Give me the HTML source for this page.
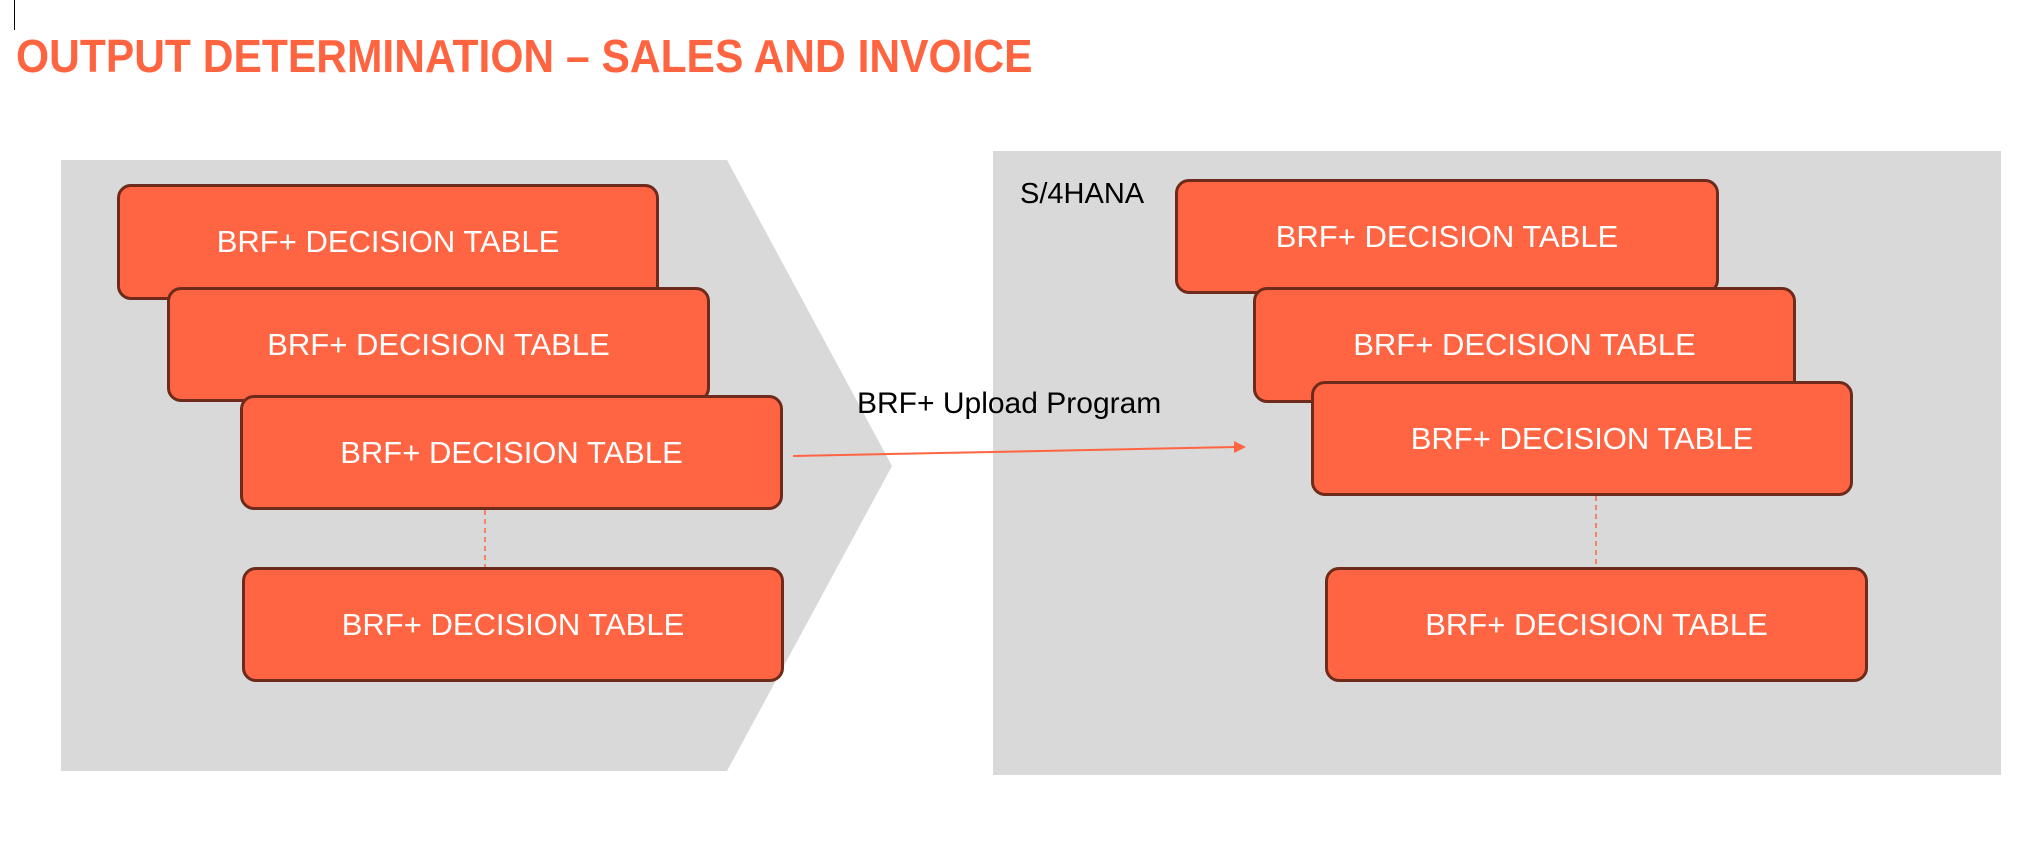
<!DOCTYPE html>
<html><head><meta charset="utf-8"><style>
html,body{margin:0;padding:0;background:#fff;}
body{width:2035px;height:862px;position:relative;overflow:hidden;font-family:"Liberation Sans",Arial,sans-serif;}
.t{position:absolute;left:16px;top:29px;font-weight:bold;font-size:46px;color:#FF6441;white-space:nowrap;transform-origin:0 0;transform:scaleX(0.925);}
.box{position:absolute;box-sizing:border-box;background:#FF6542;border:3px solid #6E2A1B;border-radius:14px;color:#fff;font-size:31px;display:flex;align-items:center;justify-content:center;white-space:nowrap;}
.lbl{position:absolute;font-size:30px;color:#000;white-space:nowrap;}
</style></head><body>
<div style="position:absolute;left:14px;top:0;width:1px;height:30px;background:#000"></div>
<div class="t">OUTPUT DETERMINATION – SALES AND INVOICE</div>
<svg width="2035" height="862" style="position:absolute;left:0;top:0">
<polygon points="61,160 727,160 892,466 727,771 61,771" fill="#D9D9D9"/>
<rect x="993" y="151" width="1008" height="624" fill="#D9D9D9"/>
</svg>
<div class="box" style="left:117px;top:184px;width:542px;height:116px">BRF+ DECISION TABLE</div>
<div class="box" style="left:167px;top:287px;width:543px;height:115px">BRF+ DECISION TABLE</div>
<div class="box" style="left:240px;top:395px;width:543px;height:115px">BRF+ DECISION TABLE</div>
<div class="box" style="left:242px;top:567px;width:542px;height:115px">BRF+ DECISION TABLE</div>
<div class="box" style="left:1175px;top:179px;width:544px;height:115px">BRF+ DECISION TABLE</div>
<div class="box" style="left:1253px;top:287px;width:543px;height:116px">BRF+ DECISION TABLE</div>
<div class="box" style="left:1311px;top:381px;width:542px;height:115px">BRF+ DECISION TABLE</div>
<div class="box" style="left:1325px;top:567px;width:543px;height:115px">BRF+ DECISION TABLE</div>
<svg width="2035" height="862" style="position:absolute;left:0;top:0">
<line x1="485" y1="510" x2="485" y2="567" stroke="#FF6542" stroke-width="1.5" stroke-dasharray="5,4"/>
<line x1="1596" y1="496" x2="1596" y2="567" stroke="#FF6542" stroke-width="1.5" stroke-dasharray="5,4"/>
<line x1="793" y1="456" x2="1236" y2="447" stroke="#FF6542" stroke-width="2"/>
<polygon points="1246,447 1234,441 1234,453" fill="#FF6542"/>
</svg>
<div class="lbl" style="left:857px;top:387px">BRF+ Upload Program</div>
<div class="lbl" style="left:1020px;top:178px;font-size:29px">S/4HANA</div>
</body></html>
